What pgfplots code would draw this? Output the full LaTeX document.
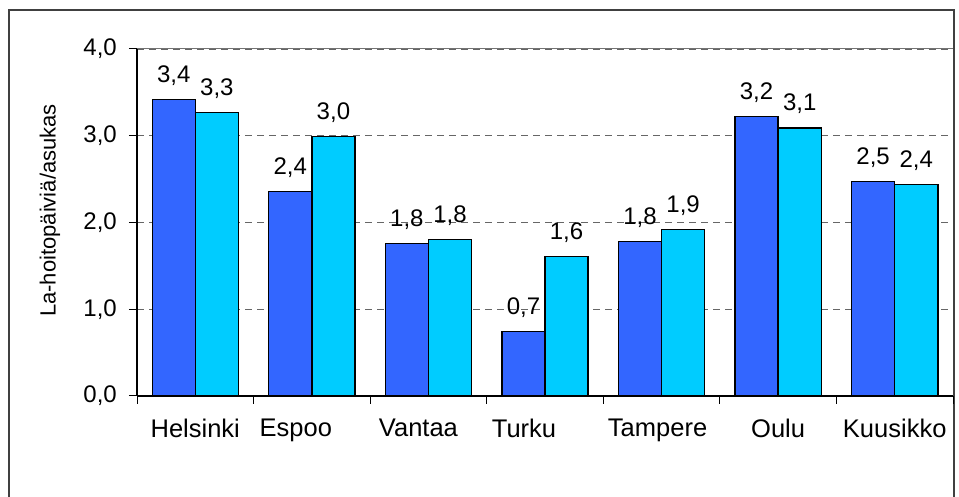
\documentclass[border=0pt]{standalone}
\usepackage{fontspec}
\setmainfont{Liberation Sans}
\usepackage{pgfplots}
\pgfplotsset{compat=1.18}
\definecolor{darkbar}{HTML}{3366FF}
\definecolor{lightbar}{HTML}{00CCFF}
\pgfplotsset{/pgf/number format/.cd, use comma, fixed, fixed zerofill, precision=1, assume math mode=true}
\begin{document}
\begin{tikzpicture}[x=1pt,y=1pt]
\path[use as bounding box] (0,0) rectangle (959,497);
\draw[black!75, line width=1.5pt] (9,-10) -- (9,487) -- (954,487) -- (954,-10);
\node[rotate=90, font=\fontsize{22}{26}\selectfont, inner sep=0pt] at (50,286.5) {La-hoitopäiviä/asukas};
\begin{axis}[
  at={(137pt,101pt)}, anchor=south west, scale only axis,
  width=816pt, height=347pt,
  xmin=-0.5, xmax=6.5, ymin=0, ymax=4,
  axis x line*=bottom, axis y line*=left,
  axis line style={black, line width=1.2pt},
  tick align=outside,
  major tick length=8pt,
  tick style={black, line width=1pt},
  ytick={0,1,2,3,4},
  yticklabel style={font=\fontsize{24}{28}\selectfont, anchor=east, inner sep=0pt, xshift=-12pt},
  xtick={-0.5,0.5,1.5,2.5,3.5,4.5,5.5,6.5},
  xticklabels={},
  extra x ticks={0,1,2,3,4,5,6},
  extra x tick labels={Helsinki, Espoo\hspace*{32pt}, Vantaa\hspace*{20pt}, Turku\hspace*{42pt}, Tampere\hspace*{8pt}, Oulu, Kuusikko},
  extra x tick style={major tick length=0pt, xticklabel style={font=\fontsize{25.5}{30}\selectfont, anchor=north, inner sep=0pt, yshift=-23pt}},
  ymajorgrids,
  major grid style={black!60, dash pattern=on 7pt off 5pt, line width=0.8pt},
  ybar, bar width=0.37,
  nodes near coords,
  every node near coord/.append style={font=\fontsize{24}{28}\selectfont, anchor=base, inner sep=0pt, yshift=17pt, black},
  clip=false,
]
\addplot[fill=darkbar, draw=black, line width=1.3pt, bar shift=-0.185] coordinates {(0,3.42) (1,2.36) (2,1.76) (3,0.74) (4,1.78) (5,3.22) (6,2.47)};
\addplot[fill=lightbar, draw=black, line width=1.3pt, bar shift=0.185] coordinates {(0,3.27) (1,2.99) (2,1.80) (3,1.61) (4,1.92) (5,3.09) (6,2.44)};
\draw[black!55, line width=1pt] (rel axis cs:0,1) -- (rel axis cs:1,1);
\end{axis}
\end{tikzpicture}
\end{document}
